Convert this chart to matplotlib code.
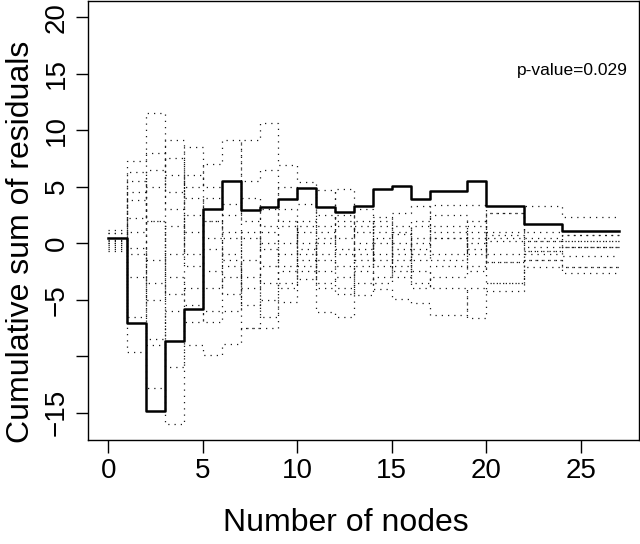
import matplotlib
matplotlib.use("Agg")
import matplotlib.pyplot as plt

plt.rcParams['font.family'] = ['Liberation Sans', 'DejaVu Sans']

# step edges (number of nodes) and observed cumulative residuals
edges = [0, 1, 2, 3, 4, 5, 6, 7, 8, 9, 10, 11, 12, 13, 14, 15, 16, 17, 19, 20, 22, 24, 27]
observed = [0.5, -7.1, -14.9, -8.7, -5.8, 3.0, 5.5, 2.9, 3.2, 3.9, 4.9, 3.2, 2.8, 3.3,
            4.8, 5.1, 3.9, 4.6, 5.5, 3.3, 1.7, 1.1]

# simulated paths (dotted)
sim1 = [1.2, 7.3, 11.5, 3.0, 8.5, 2.0, 0.5, 9.1, 10.6, 6.9, 5.4, 1.5, 4.8, 1.0, 2.3, -0.5, 0.0, 3.4, 3.4, 0.7, 3.3, 2.3]
sim2 = [0.9, 3.8, -1.5, 9.1, 5.0, 7.0, 9.1, 2.0, -2.0, 0.0, 1.0, 4.7, 0.5, 3.0, 1.5, 2.7, 3.3, 1.0, -1.0, 2.7, 1.0, 0.7]
sim3 = [0.3, -9.6, -12.8, -16.0, -9.0, -9.9, -8.9, -7.5, -5.0, -2.5, -3.2, -1.5, -2.0, -4.6, -3.0, -1.0, -2.5, -4.0, -6.6, -3.5, -2.1, -2.6]
sim4 = [0.0, -6.5, 2.0, -3.0, -5.5, -4.0, -2.0, -7.5, -7.5, -5.2, 2.0, -6.1, -6.5, -2.5, -4.1, -4.9, -5.3, -6.4, -4.0, -4.2, -1.5, -2.1]
sim5 = [-0.3, 2.2, 8.0, 4.5, 1.0, -2.5, 3.5, 4.0, 1.5, 3.0, -1.5, 0.5, -1.0, 0.0, -1.5, 1.5, -1.0, -1.5, 1.0, -1.7, -0.7, -1.1]
sim6 = [-0.7, -0.4, -5.0, -1.0, 2.5, 0.5, -4.5, -1.5, -3.5, -1.0, -2.0, -3.5, -3.0, 1.5, -2.0, -3.0, 1.5, 0.5, -2.5, 0.2, 0.2, 0.2]
sim7 = [0.5, 6.3, 5.0, 6.0, -2.0, 4.0, 1.0, -4.0, 3.0, 5.0, 3.5, 2.5, 2.0, -1.5, 0.5, 0.8, 2.0, 2.5, 1.5, 1.0, -0.3, -0.3]
sim8 = [-0.5, -3.0, -8.5, -6.0, -7.0, -6.0, -6.0, -3.0, -6.5, -3.5, -0.5, -4.0, -4.5, -3.5, 0.0, -2.0, -3.5, -2.0, 2.0, -1.7, -1.5, -2.1]
sim9 = [0.0, 4.5, 2.0, -11.0, -4.0, 2.0, -1.0, 0.5, -0.5, -4.0, -2.5, 0.0, 1.5, -0.5, 1.0, 0.0, -1.5, 0.5, -0.5, -3.5, 0.2, 0.7]
sim10 = [0.9, -1.0, -9.0, 1.5, -1.0, -7.0, -3.0, 1.0, 0.0, 1.5, 0.0, -2.5, 2.5, 2.0, -1.0, -2.5, 0.5, -1.0, 0.0, 2.7, -0.7, -0.3]
sim11 = [0.2, 1.0, 6.5, 7.5, 4.0, -0.5, -1.5, -5.5, 1.0, -2.0, 1.5, -1.0, -4.0, -1.0, -3.5, 1.0, -0.5, 1.5, 0.5, -1.0, -1.0, 0.2]
sim12 = [-0.2, 5.5, -3.5, -4.5, 6.0, 5.0, 2.5, 5.5, 6.5, 2.0, -1.0, 1.0, -0.5, -2.0, 2.0, -1.5, -4.0, -3.0, -2.0, 0.5, 0.5, -0.3]
sims = [sim1, sim2, sim3, sim4, sim5, sim6, sim7, sim8, sim9, sim10, sim11, sim12]

fig = plt.figure(figsize=(6.4, 5.44), dpi=100)
ax = fig.add_axes([0.1375, 0.191, 0.861, 0.807])

for s in sims:
    ax.step(edges, s + [s[-1]], where='post', color='#1a1a1a', lw=0.9,
            linestyle=(0, (1, 4)))
ax.step(edges, observed + [observed[-1]], where='post', color='black', lw=1.8)

ax.set_xlim(-1.08, 28.08)
ax.set_ylim(-17.44, 21.44)
ax.set_xticks([0, 5, 10, 15, 20, 25])
ax.set_yticks([-15, -10, -5, 0, 5, 10, 15, 20])
ax.set_yticklabels(['\u221215', '', '\u22125', '0', '5', '10', '15', '20'],
                   rotation=90, va='center')
ax.tick_params(axis='both', length=9, width=1, labelsize=20, pad=4)
for sp in ax.spines.values():
    sp.set_linewidth(1)

ax.set_xlabel('Number of nodes', fontsize=23)
ax.set_ylabel('Cumulative sum of residuals', fontsize=23)
ax.xaxis.set_label_coords(0.468, -0.155)
ax.yaxis.set_label_coords(-0.095, 0.451)
ax.text(27.5, 15.3, 'p-value=0.029', fontsize=12.5, ha='right', va='center')

fig.savefig('out.png', dpi=100)
